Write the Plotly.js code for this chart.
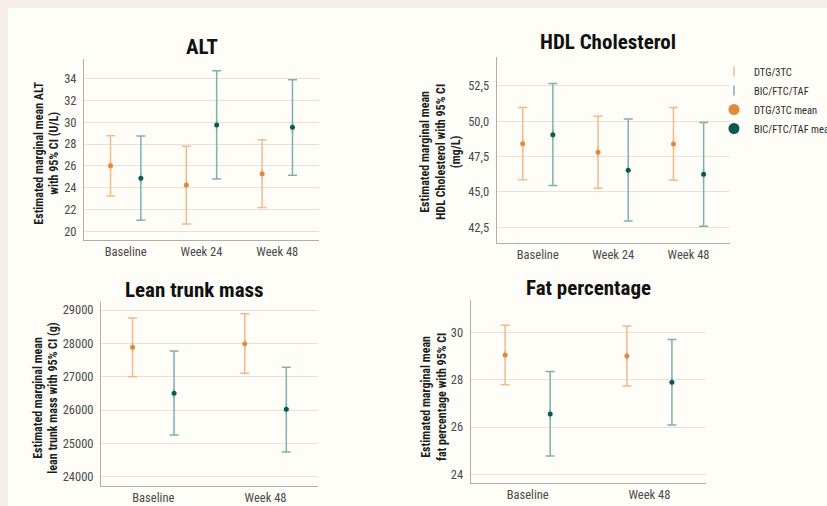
<!DOCTYPE html>
<html>
<head>
<meta charset="utf-8">
<script src="https://cdn.plot.ly/plotly-3.0.1.min.js"></script>
<style>html,body{margin:0;padding:0;background:#f6eee8;}#chart{width:827px;height:506px;}</style>
</head>
<body>
<div id="chart"></div>
<script>
// ---------- DATA ----------
const altCats = ['Baseline', 'Week 24', 'Week 48'];
const altDtgMean = [26.0, 24.25, 25.28];
const altDtgLow = [23.24, 20.67, 22.17];
const altDtgHigh = [28.77, 27.8, 28.4];
const altBicMean = [24.86, 29.75, 29.54];
const altBicLow = [21.0, 24.8, 25.14];
const altBicHigh = [28.74, 34.73, 33.9];

const hdlCats = ['Baseline', 'Week 24', 'Week 48'];
const hdlDtgMean = [48.42, 47.81, 48.4];
const hdlDtgLow = [45.87, 45.26, 45.83];
const hdlDtgHigh = [50.97, 50.36, 50.97];
const hdlBicMean = [49.04, 46.54, 46.25];
const hdlBicLow = [45.45, 42.95, 42.57];
const hdlBicHigh = [52.67, 50.17, 49.91];

const leanCats = ['Baseline', 'Week 48'];
const leanDtgMean = [27882, 27990];
const leanDtgLow = [27000, 27102];
const leanDtgHigh = [28761, 28890];
const leanBicMean = [26502, 26022];
const leanBicLow = [25251, 24741];
const leanBicHigh = [27771, 27282];

const fatCats = ['Baseline', 'Week 48'];
const fatDtgMean = [29.04, 29.0];
const fatDtgLow = [27.79, 27.73];
const fatDtgHigh = [30.3, 30.27];
const fatBicMean = [26.55, 27.89];
const fatBicLow = [24.77, 26.08];
const fatBicHigh = [28.35, 29.7];

const groupNames = ['DTG/3TC', 'BIC/FTC/TAF'];
const panelTitles = ['ALT', 'HDL Cholesterol', 'Lean trunk mass', 'Fat percentage'];
const axisTitles = [
  'Estimated marginal mean ALT<br>with 95% CI (U/L)',
  'Estimated marginal mean<br>HDL Cholesterol with 95% CI<br>(mg/L)',
  'Estimated marginal mean<br>lean trunk mass with 95% CI (g)',
  'Estimated marginal mean<br>fat percentage with 95% CI'
];

// ---------- STYLE ----------
const W = 827, H = 506;
const FONT = "'Liberation Sans Narrow', 'Roboto Condensed', 'Noto Sans Condensed', 'DejaVu Sans Condensed', sans-serif";
const C = {
  dtgBar: '#f2b98a', dtgDot: '#de8c3c',
  bicBar: '#7fb1a9', bicDot: '#0b5a50',
  grid: '#eadfdb', axis: '#b3aca8', tick: '#4a4a4a', text: '#1e1e1e',
  outer: '#f6eee8', inner: '#fefdf7'
};
const px = v => v / W, py = v => 1 - v / H;

// panel geometry (pixels): [left, right, top, bottom]
const boxes = [[84, 319, 59, 240], [496.7, 730, 56.7, 243.3], [101, 318.3, 301.7, 486], [470.7, 706, 300, 483.3]];
const xRanges = [[-0.55, 2.55], [-0.545, 2.55], [-0.466, 1.47], [-0.468, 1.465]];
const yRanges = [[19.2, 35.8], [41.37, 54.57], [23720, 29250], [23.62, 31.37]];
const yTicks = [[20, 22, 24, 26, 28, 30, 32, 34], [42.5, 45, 47.5, 50, 52.5], [24000, 25000, 26000, 27000, 28000, 29000], [24, 26, 28, 30]];
const yFormats = ['d', '.1f', 'd', 'd'];
const offsets = [0.2, 0.2, 0.185, 0.185];
const titlePos = [[202, 47], [608, 42], [194, 290], [588, 288]];
const axTitlePos = [[46.7, 153], [440, 152], [45.7, 398], [434, 397]];

const panels = [
  {cats: altCats, dtg: [altDtgMean, altDtgLow, altDtgHigh], bic: [altBicMean, altBicLow, altBicHigh]},
  {cats: hdlCats, dtg: [hdlDtgMean, hdlDtgLow, hdlDtgHigh], bic: [hdlBicMean, hdlBicLow, hdlBicHigh]},
  {cats: leanCats, dtg: [leanDtgMean, leanDtgLow, leanDtgHigh], bic: [leanBicMean, leanBicLow, leanBicHigh]},
  {cats: fatCats, dtg: [fatDtgMean, fatDtgLow, fatDtgHigh], bic: [fatBicMean, fatBicLow, fatBicHigh]}
];

const traces = [];
const layout = {
  width: W, height: H,
  margin: {l: 0, r: 0, t: 0, b: 0, autoexpand: false},
  paper_bgcolor: C.outer,
  plot_bgcolor: 'rgba(0,0,0,0)',
  separators: ',.',
  font: {family: FONT, color: C.text, size: 12},
  showlegend: true,
  legend: {
    x: px(714), y: py(57), xanchor: 'left', yanchor: 'top',
    bgcolor: 'rgba(0,0,0,0)', font: {family: FONT, size: 10.5, color: '#2a2a2a'},
    itemsizing: 'trace', tracegroupgap: 0
  },
  hovermode: false,
  shapes: [{
    type: 'rect', xref: 'paper', yref: 'paper', layer: 'below',
    x0: px(8), x1: 1.01, y0: -0.01, y1: py(8),
    fillcolor: C.inner, line: {width: 0}
  }],
  annotations: []
};

panels.forEach((p, k) => {
  const n = k === 0 ? '' : String(k + 1);
  const xa = 'x' + n, ya = 'y' + n;
  const off = offsets[k];
  const groups = [
    {name: groupNames[0], d: p.dtg, bar: C.dtgBar, dot: C.dtgDot, shift: -off, rank: 1},
    {name: groupNames[1], d: p.bic, bar: C.bicBar, dot: C.bicDot, shift: off, rank: 2}
  ];
  groups.forEach(g => {
    const [mean, low, high] = g.d;
    traces.push({
      type: 'scatter', mode: 'markers', name: g.name, legendrank: g.rank,
      xaxis: xa, yaxis: ya, showlegend: k === 0,
      x: p.cats.map((c, i) => i + g.shift), y: mean,
      marker: {symbol: 'line-ns-open', size: 7, color: g.bar, line: {color: g.bar, width: 1.5}},
      error_y: {
        type: 'data', symmetric: false,
        array: high.map((h, i) => h - mean[i]),
        arrayminus: low.map((l, i) => mean[i] - l),
        color: g.bar, thickness: 1.5, width: 4.5
      }
    });
  });
  groups.forEach(g => {
    traces.push({
      type: 'scatter', mode: 'markers', name: g.name + ' mean',
      xaxis: xa, yaxis: ya, showlegend: false,
      x: p.cats.map((c, i) => i + g.shift), y: g.d[0],
      marker: {symbol: 'circle', size: 5, color: g.dot}
    });
  });

  const [L, R, T, B] = boxes[k];
  layout['xaxis' + n] = {
    domain: [px(L), px(R)], anchor: ya, range: xRanges[k],
    tickmode: 'array', tickvals: p.cats.map((c, i) => i), ticktext: p.cats,
    showgrid: false, zeroline: false, showline: true, linecolor: C.axis, linewidth: 1,
    ticks: '', tickfont: {family: FONT, size: 12.5, color: C.tick}, fixedrange: true
  };
  layout['yaxis' + n] = {
    domain: [py(B), py(T)], anchor: xa, range: yRanges[k],
    tickmode: 'array', tickvals: yTicks[k], tickformat: yFormats[k],
    showgrid: true, gridcolor: C.grid, gridwidth: 1, zeroline: false,
    showline: true, linecolor: C.axis, linewidth: 1,
    ticks: 'outside', ticklen: 4, tickcolor: 'rgba(0,0,0,0)',
    tickfont: {family: FONT, size: 12.5, color: C.tick}, fixedrange: true
  };
  layout.annotations.push({
    text: '<b>' + panelTitles[k] + '</b>', xref: 'paper', yref: 'paper',
    x: px(titlePos[k][0]), y: py(titlePos[k][1]), xanchor: 'center', yanchor: 'middle',
    showarrow: false, font: {family: FONT, size: 21, color: '#111'}
  });
  layout.annotations.push({
    text: '<b>' + axisTitles[k] + '</b>', xref: 'paper', yref: 'paper',
    x: px(axTitlePos[k][0]), y: py(axTitlePos[k][1]), xanchor: 'center', yanchor: 'middle',
    textangle: -90, showarrow: false, font: {family: FONT, size: 12, color: C.text}
  });
});

// legend entries for the group means (enlarged symbols, no data of their own)
[[groupNames[0], C.dtgDot, 3], [groupNames[1], C.bicDot, 4]].forEach(([name, col, rank]) => {
  traces.push({
    type: 'scatter', mode: 'markers', name: name + ' mean', legendrank: rank,
    x: [null], y: [null], showlegend: true,
    marker: {symbol: 'circle', size: 11, color: col}
  });
});

Plotly.newPlot('chart', traces, layout, {staticPlot: true, displayModeBar: false});
</script>
</body>
</html>
